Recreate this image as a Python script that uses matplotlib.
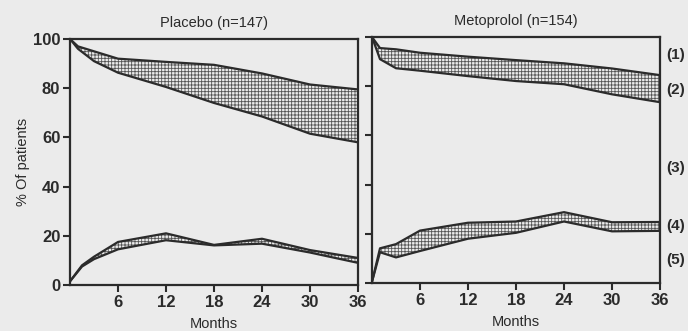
import matplotlib
matplotlib.use("Agg")
import matplotlib.pyplot as plt

# ---- data ----
titles = ["Placebo (n=147)", "Metoprolol (n=154)"]
x_ticks = [6, 12, 18, 24, 30, 36]
y_ticks = [0, 20, 40, 60, 80, 100]
band_labels = ["(1)", "(2)", "(3)", "(4)", "(5)"]

# Placebo
pl_up_months = [0, 1, 3, 6, 12, 18, 24, 30, 36]
pl_up_high = [100, 97, 95, 92, 90.7, 89.5, 86, 81.5, 79.5]
pl_up_low = [100, 96, 91, 86.3, 80.5, 74, 68.5, 61.5, 58]
pl_lo_months = [0, 1.5, 3, 6, 12, 18, 24, 30, 36]
pl_lo_high = [1.5, 8, 11.5, 17.5, 21, 16.3, 18.8, 14.2, 11]
pl_lo_low = [1.5, 7.5, 10.5, 14.5, 18.2, 16.1, 16.8, 13.2, 9]

# Metoprolol
me_up_months = [0, 1, 3, 6, 12, 18, 24, 30, 36]
me_up_high = [100, 95.5, 95, 93.6, 92, 90.6, 89.3, 87.2, 84.5]
me_up_low = [100, 91, 87.3, 86.3, 84.1, 82.1, 80.8, 76.7, 73.5]
me_lo_months = [0, 1, 3, 6, 12, 18, 24, 30, 36]
me_lo_high = [0.5, 14.1, 15.8, 21.3, 24.5, 25, 28.8, 24.7, 24.8]
me_lo_low = [0.5, 12.5, 10.4, 13, 18, 20.4, 25, 21, 21.2]

panels = [
    [(pl_up_months, pl_up_high, pl_up_low), (pl_lo_months, pl_lo_high, pl_lo_low)],
    [(me_up_months, me_up_high, me_up_low), (me_lo_months, me_lo_high, me_lo_low)],
]

# ---- style ----
bg = "#ebebeb"
ink = "#2b2b2b"
plt.rcParams["font.family"] = ["Liberation Sans", "DejaVu Sans"]
plt.rcParams["hatch.linewidth"] = 0.6

fig = plt.figure(figsize=(6.88, 3.31), dpi=100, facecolor=bg)
W, H = 688, 331
axes_px = [(70, 39, 358, 285), (372, 37, 660, 283)]

for i, (x0, y0, x1, y1) in enumerate(axes_px):
    ax = fig.add_axes([x0 / W, 1 - y1 / H, (x1 - x0) / W, (y1 - y0) / H])
    ax.set_facecolor(bg)
    for months, hi, lo in panels[i]:
        ax.fill_between(months, lo, hi, facecolor="none", edgecolor="#555555",
                        hatch="+++++", linewidth=0)
        ax.plot(months, hi, color=ink, lw=1.6, solid_joinstyle="round")
        ax.plot(months, lo, color=ink, lw=1.6, solid_joinstyle="round")
    ax.set_xlim(0, 36)
    ax.set_ylim(0, 100)
    ax.set_xticks(x_ticks)
    ax.set_yticks(y_ticks)
    ax.set_xticklabels([str(t) for t in x_ticks], fontsize=12, fontweight="bold", color=ink)
    if i == 0:
        ax.set_yticklabels([str(t) for t in y_ticks], fontsize=12, fontweight="bold", color=ink)
        ax.set_ylabel("% Of patients", fontsize=10.5, color=ink, labelpad=2)
    else:
        ax.set_yticklabels([])
    ax.tick_params(direction="out", length=5, width=1.5, color=ink, pad=2)
    for s in ax.spines.values():
        s.set_linewidth(1.6)
        s.set_color(ink)
    ax.set_title(titles[i], fontsize=10.5, color=ink, pad=9)
    ax.set_xlabel("Months", fontsize=10.5, color=ink, labelpad=5)

label_y = [55, 90, 168, 226, 260]
for lab, yy in zip(band_labels, label_y):
    fig.text(676 / W, 1 - yy / H, lab, fontsize=11, fontweight="bold", color=ink,
             ha="center", va="center")

fig.savefig("out.png", dpi=100, facecolor=bg)
